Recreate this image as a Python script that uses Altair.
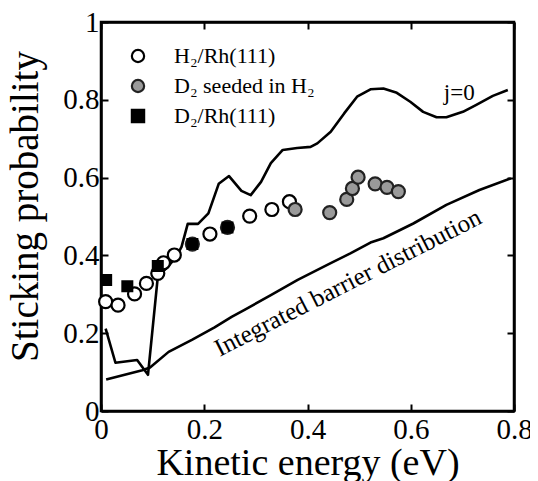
import altair as alt
import pandas as pd

# j=0 curve
j0_x = [0.009, 0.028, 0.070, 0.091, 0.110, 0.130, 0.145, 0.156, 0.168, 0.188, 0.208, 0.228,
        0.248, 0.272, 0.290, 0.310, 0.329, 0.352, 0.380, 0.406, 0.419, 0.445, 0.471, 0.496,
        0.522, 0.547, 0.573, 0.599, 0.624, 0.650, 0.669, 0.701, 0.727, 0.759, 0.788]
j0_y = [0.212, 0.124, 0.131, 0.093, 0.345, 0.372, 0.395, 0.422, 0.481, 0.481, 0.508, 0.584,
        0.604, 0.566, 0.555, 0.589, 0.637, 0.671, 0.676, 0.679, 0.688, 0.718, 0.765, 0.808,
        0.827, 0.829, 0.818, 0.795, 0.769, 0.755, 0.755, 0.769, 0.787, 0.810, 0.825]

# Integrated barrier distribution
ib_x = [0.010, 0.080, 0.095, 0.131, 0.176, 0.220, 0.253, 0.278, 0.329, 0.381, 0.445, 0.483,
        0.522, 0.547, 0.605, 0.669, 0.733, 0.794]
ib_y = [0.081, 0.105, 0.112, 0.152, 0.183, 0.215, 0.242, 0.260, 0.298, 0.337, 0.380, 0.405,
        0.433, 0.444, 0.482, 0.530, 0.568, 0.598]

# Experimental points
h2_x = [0.009, 0.033, 0.065, 0.088, 0.110, 0.121, 0.142, 0.211, 0.288, 0.331, 0.365]
h2_y = [0.281, 0.272, 0.301, 0.328, 0.354, 0.381, 0.401, 0.455, 0.501, 0.518, 0.538]
ds_x = [0.177, 0.245, 0.376, 0.443, 0.476, 0.487, 0.498, 0.531, 0.554, 0.576]
ds_y = [0.429, 0.472, 0.518, 0.510, 0.544, 0.572, 0.601, 0.584, 0.575, 0.564]
d2_x = [0.010, 0.051, 0.110, 0.177, 0.245]
d2_y = [0.337, 0.321, 0.373, 0.429, 0.472]

series_names = ["H₂/Rh(111)", "D₂ seeded in H₂", "D₂/Rh(111)"]

x_ticks = [0, 0.2, 0.4, 0.6, 0.8]
y_ticks = [0, 0.2, 0.4, 0.6, 0.8, 1]

FONT = "Liberation Serif"

j0_df = pd.DataFrame({"x": j0_x, "y": j0_y})
ib_df = pd.DataFrame({"x": ib_x, "y": ib_y})
circ_df = pd.concat([
    pd.DataFrame({"x": h2_x, "y": h2_y, "series": series_names[0]}),
    pd.DataFrame({"x": ds_x, "y": ds_y, "series": series_names[1]}),
], ignore_index=True)
sq_df = pd.DataFrame({"x": d2_x, "y": d2_y, "series": series_names[2]})

xscale = alt.Scale(domain=[0, 0.8], nice=False)
yscale = alt.Scale(domain=[0, 1], nice=False)

tick_in = alt.ExprRef("-7")

main_x_axis = alt.Axis(values=x_ticks, format="~g", grid=False, tickSize=tick_in, labelFlush=False,
                       labelFont=FONT, labelFontSize=29, labelColor="black", labelPadding=11,
                       title="Kinetic energy (eV)", titleFont=FONT, titleFontSize=38,
                       titleFontWeight="normal", titleColor="black",
                       titleBaseline="alphabetic", titleY=63)
main_y_axis = alt.Axis(values=y_ticks, format="~g", grid=False, tickSize=tick_in, labelFlush=False,
                       labelFont=FONT, labelFontSize=29, labelColor="black", labelPadding=9,
                       title="Sticking probability", titleFont=FONT, titleFontSize=39,
                       titleFontWeight="normal", titleColor="black", titleAngle=270,
                       titleBaseline="alphabetic", titleAlign="center", titleX=-64, titleY=184)
top_axis = alt.Axis(orient="top", values=x_ticks, labels=False, title=None, grid=False,
                    tickSize=tick_in)
right_axis = alt.Axis(orient="right", values=y_ticks, labels=False, title=None, grid=False,
                      tickSize=tick_in)

j0_line = alt.Chart(j0_df).mark_line(color="black", strokeWidth=2.6, strokeJoin="round").encode(
    x=alt.X("x:Q", scale=xscale, axis=main_x_axis),
    y=alt.Y("y:Q", scale=yscale, axis=main_y_axis),
)
ib_line = alt.Chart(ib_df).mark_line(color="black", strokeWidth=2.6, strokeJoin="round").encode(
    x=alt.X("x:Q", scale=xscale, axis=top_axis),
    y=alt.Y("y:Q", scale=yscale, axis=right_axis),
)

shape_enc = alt.Shape("series:N", scale=alt.Scale(domain=series_names, range=["circle", "circle", "square"]),
                      legend=alt.Legend(title=None))
fill_enc = alt.Fill("series:N", scale=alt.Scale(domain=series_names, range=["white", "#9a9a9a", "black"]),
                    legend=alt.Legend(title=None))
stroke_enc = alt.Stroke("series:N", scale=alt.Scale(domain=series_names, range=["black", "#222222", "black"]),
                        legend=alt.Legend(title=None))

circles = alt.Chart(circ_df).mark_point(filled=True, opacity=1, strokeWidth=2.2, size=170).encode(
    x=alt.X("x:Q", scale=xscale, axis=None),
    y=alt.Y("y:Q", scale=yscale, axis=None),
    shape=shape_enc, fill=fill_enc, stroke=stroke_enc,
)
squares = alt.Chart(sq_df).mark_point(filled=True, opacity=1, strokeWidth=2, size=100).encode(
    x=alt.X("x:Q", scale=xscale, axis=None),
    y=alt.Y("y:Q", scale=yscale, axis=None),
    shape=shape_enc, fill=fill_enc, stroke=stroke_enc,
)

lab_j0 = alt.Chart(pd.DataFrame({"x": [0.694], "y": [0.817], "t": ["j=0"]})).mark_text(
    font=FONT, fontSize=23, color="black", align="center", baseline="middle"
).encode(x=alt.X("x:Q", scale=xscale, axis=None), y=alt.Y("y:Q", scale=yscale, axis=None), text="t:N")

lab_ib = alt.Chart(pd.DataFrame({"x": [0.478], "y": [0.33], "t": ["Integrated barrier distribution"]})).mark_text(
    font=FONT, fontSize=25, color="black", align="center", baseline="middle", angle=333
).encode(x=alt.X("x:Q", scale=xscale, axis=None), y=alt.Y("y:Q", scale=yscale, axis=None), text="t:N")

chart = alt.layer(j0_line, ib_line, circles, squares, lab_j0, lab_ib).resolve_axis(
    x="independent", y="independent"
).properties(
    width=413, height=389,
    autosize=alt.AutoSizeParams(type="none"),
    padding={"left": 93, "top": 14, "right": 16, "bottom": 70},
).configure_view(
    stroke="black", strokeWidth=2.5
).configure_axis(
    domainColor="black", domainWidth=2.5, tickColor="black", tickWidth=2,
).configure_legend(
    orient="none", legendX=26, legendY=23, padding=0,
    labelFont=FONT, labelFontSize=22, labelColor="black", labelOffset=25,
    symbolSize=150, symbolStrokeWidth=2.2, rowPadding=8, labelLimit=300,
)

chart.save("out.html", embed_options={"renderer": "svg", "actions": False})
